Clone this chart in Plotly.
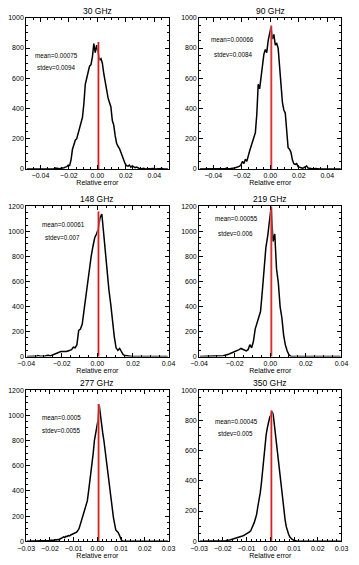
import plotly.graph_objects as go

# ---------------- data ----------------
titles = ["30 GHz", "90 GHz", "148 GHz", "219 GHz", "277 GHz", "350 GHz"]
mean_labels = ["0.00075", "0.00066", "0.00061", "0.00055", "0.0005", "0.00045"]
stdev_labels = ["0.0094", "0.0084", "0.007", "0.006", "0.0055", "0.005"]
means = [float(m) for m in mean_labels]
mean_line_top = [840, 950, 1160, 1200, 1090, 865]

bin_start = [-0.05, -0.05, -0.04, -0.04, -0.03, -0.03]
bin_width = [0.001, 0.001, 0.001, 0.001, 0.0005, 0.0005]

counts_30 = [0, 0, 2, 0, 0, 1, 0, 3, 0, 2, 0, 0, 5, 2, 0, 0, 3, 0, 1, 0, 6, 3, 0, 2, 4,
             5, 8, 12, 15, 25, 22, 60, 130, 160, 190, 200, 240, 270, 300, 340, 430, 560,
             600, 650, 680, 690, 740, 830, 770, 820, 780, 720, 730, 700, 630, 570, 520,
             470, 440, 410, 320, 290, 220, 170, 150, 135, 110, 85, 55, 35, 22, 18, 25, 12,
             20, 15, 8, 12, 5,
             3, 0, 2, 4, 0, 1, 0, 3, 0, 0, 2, 0, 1, 3, 0, 0, 2, 0, 0, 1, 0]
counts_90 = [0, 0, 1, 0, 2, 0, 0, 0, 3, 0, 5, 0, 0, 2, 0, 4, 0, 0, 3, 6, 0, 2, 5, 3, 6,
             8, 10, 12, 18, 30, 50, 35, 65, 50, 95, 120, 150, 180, 210, 240, 360, 560, 530,
             600, 680, 760, 790, 770, 850, 900, 940, 860, 890, 820, 830, 800, 700, 560, 440,
             390, 370, 250, 140, 130, 110, 60, 35, 30, 35, 15, 10, 8, 5, 8, 12, 20, 6, 4, 3,
             2, 0, 3, 0, 1, 0, 0, 2, 0, 5, 0, 2, 0, 0, 3, 0, 1, 0, 0, 2, 0]
counts_148 = [0, 2, 0, 5, 3, 0, 8, 4, 2, 6, 3, 8, 10, 5, 12,
              15, 20, 30, 35, 40, 38, 42, 40, 45, 50, 55, 75, 70, 95, 210, 220, 260, 370,
              490, 600, 720, 800, 880, 950, 980, 1020, 1110, 1140, 990, 830, 690, 530, 420,
              260, 160, 70, 50, 65, 35, 15, 8, 5, 3,
              2, 0, 1, 0, 0, 2, 0, 0, 1, 0, 0, 0, 2, 0, 0, 1, 0, 0, 0, 0, 1, 0]
counts_219 = [0, 0, 0, 0, 0, 0, 0, 0, 2, 0, 3, 5, 4, 6, 10,
              12, 18, 25, 30, 35, 40, 50, 55, 65, 60, 50, 45, 55, 95, 70, 120, 220, 270,
              310, 360, 520, 720, 870, 960, 1070, 1200, 920, 980, 700, 590, 400, 310, 170,
              90, 45, 15, 2, 0, 0, 0, 0, 0, 0,
              0, 0, 0, 0, 0, 0, 0, 0, 0, 0, 0, 0, 0, 0, 0, 0, 0, 0, 0, 0, 0, 0]
counts_277 = [0, 0, 0, 0, 0, 0, 0, 0, 0, 0,
              3, 5, 2, 4, 3, 2, 5, 3, 4, 6,
              8, 6, 10, 8, 12, 10, 14, 12, 18, 20,
              28, 35, 30, 40, 38, 45, 42, 50, 55, 60,
              60, 68, 72, 85, 100, 130, 160, 185, 210, 240,
              280, 320, 390, 460, 540, 620, 700, 800, 860, 900,
              960, 1085, 1000, 900, 860, 800, 720, 620, 540, 480,
              380, 300, 240, 190, 140, 90, 80, 70, 50, 20,
              5, 0, 0, 0, 0, 0, 0, 0, 0, 0,
              0, 0, 0, 0, 0, 0, 0, 0, 0, 0, 0, 0, 0, 0, 0,
              0, 0, 0, 0, 0, 0, 0, 0, 0, 0, 0, 0, 0, 0, 0]
counts_350 = [0, 0, 0, 0, 0, 0, 0, 0, 0, 0,
              0, 0, 0, 0, 2, 3, 5, 3, 4, 2,
              3, 5, 4, 6, 5, 8, 10, 12, 14, 16,
              18, 20, 24, 26, 28, 32, 35, 38, 42, 46,
              50, 55, 62, 70, 85, 105, 125, 150, 180, 230,
              270, 320, 385, 470, 550, 630, 705, 750, 790, 820,
              835, 860, 835, 765, 690, 610, 530, 460, 390, 320,
              260, 200, 140, 95, 65, 45, 28, 18, 12, 8,
              4, 2, 0, 0, 0, 0, 0, 0, 0, 0,
              0, 0, 0, 0, 0, 0, 0, 0, 0, 0, 0, 0, 0, 0, 0,
              0, 0, 0, 0, 0, 0, 0, 0, 0, 0, 0, 0, 0, 0, 0]
all_counts = [counts_30, counts_90, counts_148, counts_219, counts_277, counts_350]

x_ranges = [[-0.05, 0.05], [-0.05, 0.05], [-0.04, 0.04], [-0.04, 0.04], [-0.03, 0.03], [-0.03, 0.03]]
x_dticks = [0.02, 0.02, 0.02, 0.02, 0.01, 0.01]
x_minor = [0.005, 0.005, 0.005, 0.005, 0.002, 0.002]
y_ranges = [[0, 1000], [0, 1000], [0, 1200], [0, 1200], [0, 1200], [0, 1000]]

# text positions (axis domain fractions)
mean_pos = [(0.047, 0.75), (0.067, 0.856), (0.094, 0.88), (0.10, 0.92), (0.094, 0.82), (0.10, 0.79)]
stdev_pos = [(0.06, 0.673), (0.087, 0.758), (0.12, 0.79), (0.12, 0.82), (0.094, 0.73), (0.12, 0.71)]

# ---------------- layout ----------------
W, H = 359, 565
col_px = [(18, 167), (199, 348)]
row_px = [(14, 167), (205, 357), (391, 544)]
FONT = "Liberation Sans, Arial, sans-serif"

fig = go.Figure()
layout = dict(width=W, height=H, margin=dict(l=0, r=0, t=0, b=0),
              paper_bgcolor="white", plot_bgcolor="white", showlegend=False,
              font=dict(family=FONT, color="black", size=7))
annotations = []

for i in range(6):
    r, c = divmod(i, 2)
    n = "" if i == 0 else str(i + 1)
    xa, ya = "x" + n, "y" + n
    x0, x1 = col_px[c]
    y0, y1 = row_px[r]
    xdom = [x0 / W, x1 / W]
    ydom = [1 - y1 / H, 1 - y0 / H]

    cnt = all_counts[i]
    xs = [bin_start[i] + (k + 0.5) * bin_width[i] for k in range(len(cnt))]
    fig.add_trace(go.Scatter(x=xs, y=cnt, mode="lines", xaxis=xa, yaxis=ya,
                             line=dict(color="black", width=1.5),
                             hoverinfo="skip"))
    fig.add_trace(go.Scatter(x=[means[i], means[i]], y=[0, mean_line_top[i]], mode="lines",
                             xaxis=xa, yaxis=ya,
                             line=dict(color="rgba(235,140,140,0.7)", width=2.8), hoverinfo="skip"))
    fig.add_trace(go.Scatter(x=[means[i], means[i]], y=[0, mean_line_top[i]], mode="lines",
                             xaxis=xa, yaxis=ya,
                             line=dict(color="rgb(215,30,30)", width=1.2), hoverinfo="skip"))

    common = dict(showline=True, linecolor="black", linewidth=1, mirror="allticks",
                  ticks="inside", ticklen=4, tickcolor="black", tickwidth=1,
                  showgrid=False, zeroline=False,
                  tickfont=dict(family=FONT, size=7, color="black"))
    layout["xaxis" + n] = dict(common, domain=xdom, anchor=ya, range=x_ranges[i],
                               dtick=x_dticks[i], tick0=0, tickformat=".2f",
                               minor=dict(ticks="inside", ticklen=2, dtick=x_minor[i],
                                          tick0=0, tickcolor="black", showgrid=False),
                               title=dict(text="Relative error", standoff=0,
                                          font=dict(family=FONT, size=7, color="black")))
    layout["yaxis" + n] = dict(common, domain=ydom, anchor=xa, range=y_ranges[i],
                               dtick=200, tick0=0,
                               minor=dict(ticks="inside", ticklen=2, dtick=50,
                                          tick0=0, tickcolor="black", showgrid=False))

    annotations.append(dict(text=titles[i], xref="paper", yref="paper",
                            x=(xdom[0] + xdom[1]) / 2, y=ydom[1], xanchor="center",
                            yanchor="bottom", yshift=0, showarrow=False,
                            font=dict(family=FONT, size=8.5, color="black")))
    annotations.append(dict(text="mean=" + mean_labels[i], xref=xa + " domain", yref=ya + " domain",
                            x=mean_pos[i][0], y=mean_pos[i][1], xanchor="left", yanchor="middle",
                            showarrow=False, font=dict(family=FONT, size=6.3, color="black")))
    annotations.append(dict(text="stdev=" + stdev_labels[i], xref=xa + " domain", yref=ya + " domain",
                            x=stdev_pos[i][0], y=stdev_pos[i][1], xanchor="left", yanchor="middle",
                            showarrow=False, font=dict(family=FONT, size=6.3, color="black")))

layout["annotations"] = annotations
fig.update_layout(**layout)
fig.write_html("out.html")
